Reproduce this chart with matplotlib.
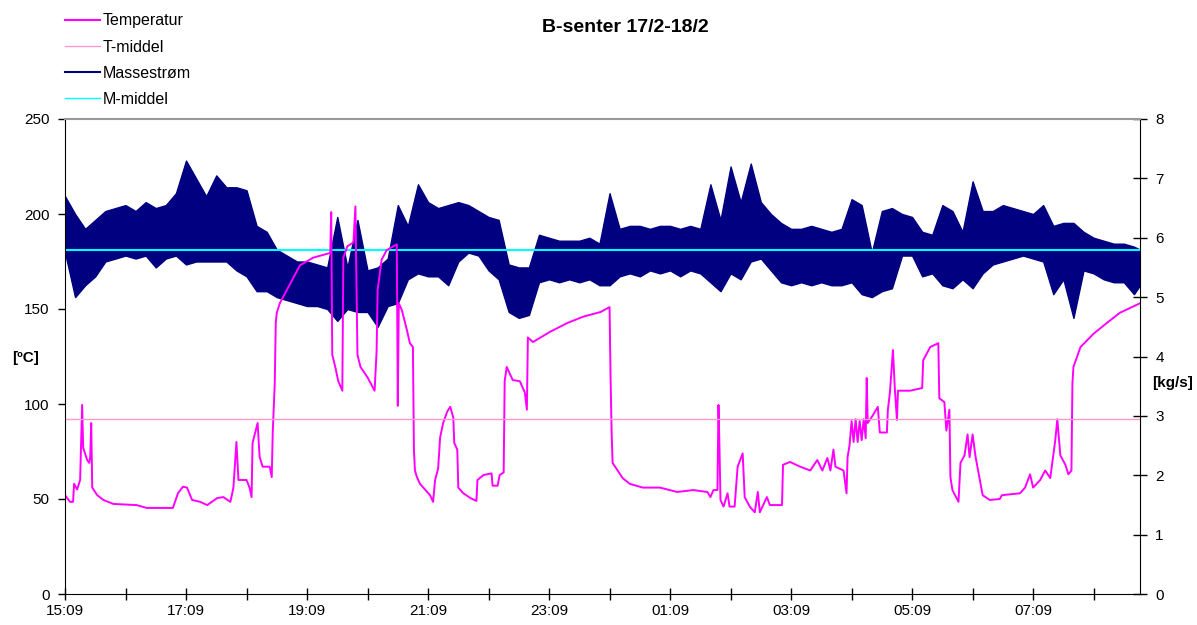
import matplotlib
matplotlib.use("Agg")
import matplotlib.pyplot as plt
from matplotlib.lines import Line2D
from matplotlib.ticker import FixedLocator, FuncFormatter

plt.rcParams["font.family"] = ["Liberation Sans", "DejaVu Sans"]

# time in minutes after 15:09
start_h, start_m = 15, 9
t_end = 1066

# temperature [ºC]
t_time = [0, 5, 8, 9, 12, 15, 17, 18, 22, 24, 25, 26, 27, 32, 38, 48, 71, 81, 107, 112,
          117, 121, 126, 134, 141, 151, 157, 164, 167, 170, 172, 180, 183, 185, 186, 191,
          193, 196, 203, 205, 206, 208, 209, 210, 213, 220, 233, 246, 263, 264, 265, 268,
          271, 275, 276, 280, 286, 288, 290, 293, 300, 307, 309, 310, 314, 319, 329, 330,
          331, 334, 339, 342, 345, 346, 347, 349, 352, 357, 362, 365, 367, 370, 372, 375,
          379, 382, 385, 386, 389, 390, 395, 402, 408, 409, 415, 423, 424, 429, 431, 435,
          436, 438, 444, 451, 456, 458, 459, 464, 481, 498, 514, 531, 540, 541, 542, 543,
          548, 553, 560, 573, 590, 607, 623, 637, 640, 643, 647, 648, 649, 650, 653, 657,
          659, 664, 667, 672, 674, 679, 684, 687, 689, 696, 699, 711, 712, 719, 729, 739,
          746, 751, 756, 759, 762, 764, 772, 775, 776, 778, 780, 782, 784, 786, 788, 790,
          792, 794, 795, 796, 801, 806, 808, 815, 816, 818, 821, 823, 825, 826, 838, 850,
          851, 858, 866, 867, 872, 874, 877, 878, 880, 886, 888, 892, 895, 897, 900, 903,
          910, 917, 927, 929, 947, 952, 957, 960, 967, 972, 977, 982, 984, 987, 992, 995,
          998, 999, 1000, 1007, 1020, 1033, 1046, 1066]
t_val = [52, 48.5, 48.5, 58, 55, 60, 99.5, 77, 70.5, 69, 72, 90, 56, 52, 49.5, 47.4, 46.8,
         45.3, 45.3, 53, 56.5, 56, 49.5, 48.5, 46.8, 50.5, 51, 48.5, 56, 80, 60, 60, 56, 51,
         79.5, 90, 72, 67, 67, 61.5, 85, 111, 142.6, 148, 153, 160, 173, 177, 179.5, 201,
         126, 119.5, 112, 107, 177, 183, 185, 204, 126, 119.5, 114, 107, 128, 160, 176, 181,
         184, 99, 153, 149.5, 139, 132, 130, 76, 65, 61.5, 58, 55, 52, 48.5, 60, 66, 82.5,
         90, 96, 98.5, 93, 79.5, 76, 56, 53, 50.5, 49, 60, 62.6, 63.5, 57, 57, 62.6, 64, 112,
         119.5, 112.6, 112, 106, 97, 135, 132.6, 138, 142.6, 146, 148.4, 151, 114, 86, 69,
         65, 61, 58, 56, 56, 53.7, 54.7, 53.7, 51, 54.7, 54.7, 99.5, 77, 49.5, 46, 53, 46,
         46, 67, 74, 51, 46, 43, 53.7, 43, 51, 46.8, 46.8, 68, 69.5, 67, 65, 70.5, 65, 71.6,
         65, 76, 67, 65, 53, 72, 78.4, 91, 80, 92, 80, 91, 81, 92, 82, 113.7, 90, 94, 98.5,
         85, 85, 97, 106, 128.4, 107, 91.6, 107, 107, 108.4, 123, 130, 132, 103, 101, 86,
         97, 61.6, 54.7, 48.5, 69, 73, 84, 72, 84, 72, 52, 49.5, 50, 52, 53, 56, 63, 56, 60,
         65, 61, 81, 92, 73, 68, 63, 65, 111, 119.5, 130, 137, 142.6, 148, 153]
t_mean = 92

# mass flow [kg/s]: upper and lower edge of the band, every 10 minutes
m_time = list(range(0, 1061, 10)) + [t_end]
m_hi = [6.7, 6.4, 6.15, 6.3, 6.45, 6.5, 6.55, 6.45, 6.6, 6.5, 6.55, 6.75, 7.3, 7.0, 6.7,
        7.05, 6.85, 6.85, 6.8, 6.2, 6.1, 5.8, 5.7, 5.6, 5.6, 5.55, 5.5, 6.35, 5.5, 6.3,
        5.45, 5.5, 5.65, 6.55, 6.2, 6.9, 6.6, 6.5, 6.55, 6.6, 6.55, 6.45, 6.35, 6.3, 5.55,
        5.5, 5.5, 6.05, 6.0, 5.95, 5.95, 5.95, 6.0, 5.9, 6.75, 6.15, 6.2, 6.2, 6.15, 6.2,
        6.2, 6.15, 6.2, 6.15, 6.9, 6.3, 7.2, 6.6, 7.25, 6.6, 6.4, 6.25, 6.15, 6.15, 6.2,
        6.15, 6.1, 6.15, 6.65, 6.55, 5.75, 6.45, 6.5, 6.4, 6.35, 6.1, 6.05, 6.55, 6.45, 6.1,
        6.95, 6.45, 6.45, 6.55, 6.5, 6.45, 6.4, 6.55, 6.2, 6.25, 6.25, 6.1, 6.0, 5.95, 5.9,
        5.9, 5.85, 5.8]
m_lo = [5.75, 5.0, 5.2, 5.35, 5.6, 5.65, 5.7, 5.65, 5.7, 5.5, 5.65, 5.7, 5.55, 5.6, 5.6,
        5.6, 5.6, 5.45, 5.35, 5.1, 5.1, 5.0, 4.95, 4.9, 4.85, 4.85, 4.8, 4.6, 4.8, 4.75,
        4.75, 4.5, 4.85, 4.9, 5.3, 5.4, 5.35, 5.35, 5.2, 5.6, 5.75, 5.7, 5.45, 5.3, 4.75,
        4.65, 4.7, 5.25, 5.3, 5.25, 5.3, 5.25, 5.3, 5.2, 5.2, 5.35, 5.4, 5.35, 5.45, 5.4,
        5.45, 5.35, 5.45, 5.4, 5.25, 5.1, 5.4, 5.3, 5.6, 5.65, 5.45, 5.25, 5.2, 5.25, 5.2,
        5.25, 5.2, 5.2, 5.25, 5.05, 5.0, 5.1, 5.15, 5.7, 5.7, 5.35, 5.4, 5.2, 5.15, 5.3,
        5.15, 5.4, 5.55, 5.6, 5.65, 5.7, 5.65, 5.6, 5.05, 5.3, 4.65, 5.45, 5.4, 5.3, 5.25,
        5.25, 5.05, 5.2]
m_mean = 5.8

C_TEMP = "#FF00FF"
C_TMEAN = "#FF99CC"
C_MASS = "#000080"
C_MMEAN = "#00FFFF"

fig = plt.figure(figsize=(11.97, 6.25), dpi=100)
ax = fig.add_axes([65 / 1197, 1 - 594 / 625, 1075 / 1197, 475 / 625])
ax2 = ax.twinx()

ax2.fill_between(m_time, m_lo, m_hi, color=C_MASS, lw=1.0)
ax2.axhline(m_mean, color=C_MMEAN, lw=1.5)
ax.plot(t_time, t_val, color=C_TEMP, lw=1.4)
ax.axhline(t_mean, color=C_TMEAN, lw=1.0)

ax.set_zorder(ax2.get_zorder() + 1)
ax.patch.set_visible(False)

ax.set_xlim(0, t_end)
ax.set_ylim(0, 250)
ax2.set_ylim(0, 8)
ax.set_yticks(range(0, 251, 50))
ax2.set_yticks(range(0, 9))


def clock(m, pos=None):
    tot = start_h * 60 + start_m + int(round(m))
    return f"{(tot // 60) % 24:02d}:{tot % 60:02d}"


ax.xaxis.set_major_locator(FixedLocator(list(range(0, t_end, 120))))
ax.xaxis.set_minor_locator(FixedLocator(list(range(60, t_end, 120))))
ax.xaxis.set_major_formatter(FuncFormatter(clock))

ax.tick_params(axis="x", which="both", direction="inout", length=9, width=1,
               labelsize=11, pad=3)
ax.tick_params(axis="y", direction="out", length=5, width=1, labelsize=11, pad=6)
ax2.tick_params(axis="y", direction="inout", length=10, width=1, labelsize=11, pad=6)

for s in ["left", "bottom"]:
    ax.spines[s].set_color("black")
ax.spines["right"].set_visible(False)
ax.spines["top"].set_color("#999999")
ax.spines["top"].set_linewidth(1.5)
for s in ["left", "bottom", "top"]:
    ax2.spines[s].set_visible(False)
ax2.spines["right"].set_color("black")

fig.text(12 / 1197, 1 - 358 / 625, "[ºC]", fontsize=11, fontweight="bold", va="center")
fig.text(1152 / 1197, 1 - 383 / 625, "[kg/s]", fontsize=11, fontweight="bold", va="center")
fig.text(625 / 1197, 1 - 27 / 625, "B-senter 17/2-18/2", fontsize=14,
         fontweight="bold", ha="center", va="center")

handles = [Line2D([], [], color=C_TEMP, lw=1.5),
           Line2D([], [], color=C_TMEAN, lw=1.0),
           Line2D([], [], color=C_MASS, lw=1.5),
           Line2D([], [], color=C_MMEAN, lw=1.0)]
labels = ["Temperatur", "T-middel", "Massestrøm", "M-middel"]
fig.legend(handles, labels, loc="upper left", bbox_to_anchor=(59 / 1197, 1 - 7 / 625),
           frameon=False, fontsize=11.5, handlelength=2.15, handletextpad=0.2,
           labelspacing=0.7, borderaxespad=0)

fig.savefig("out.png", dpi=100)
